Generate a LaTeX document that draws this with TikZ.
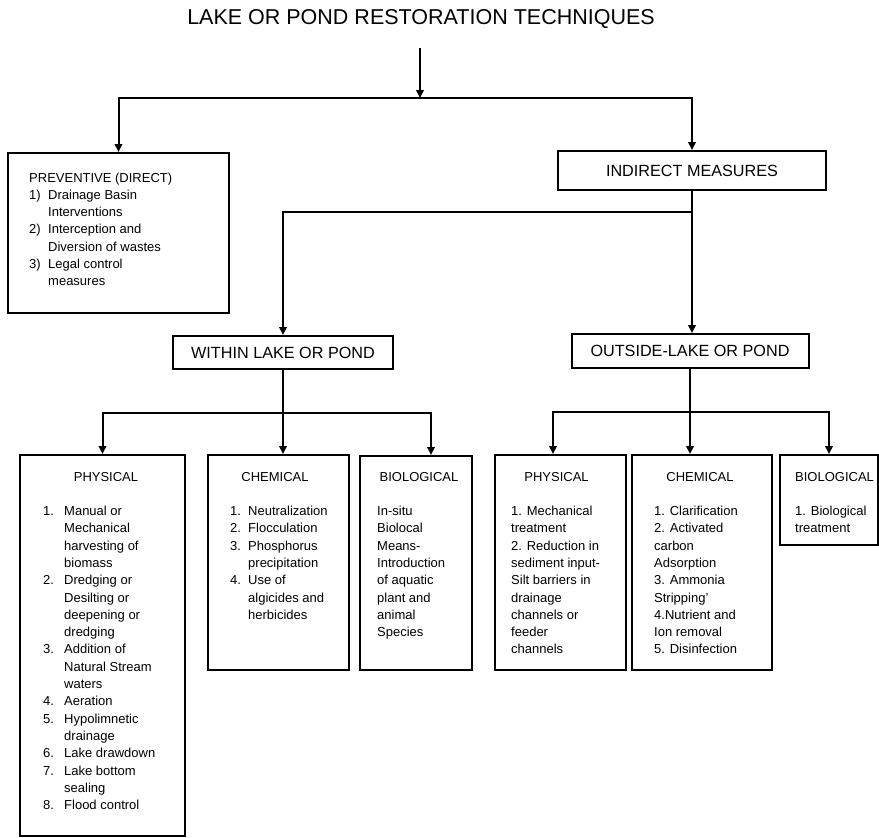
\documentclass[tikz,border=0pt]{standalone}
\usepackage{fontspec}
\setmainfont{Liberation Sans}
\usepackage{array}
\usetikzlibrary{arrows.meta}

\newcommand{\plainlines}[1]{\begin{tabular}[t]{@{}l@{}}#1\end{tabular}}
\newcommand{\numlines}[2]{\begin{tabular}[t]{@{}p{#1}@{}l@{}}#2\end{tabular}}

\begin{document}
\begin{tikzpicture}[
        x=1pt, y=-1pt,
        >={Triangle[length=8pt,width=7.5pt]},
        box/.style={draw, line width=2pt, inner sep=0pt},
        lbl/.style={font=\fontsize{16.2}{20}\selectfont},
        head/.style={inner sep=0pt, anchor=base, font=\fontsize{13}{17.3}\selectfont},
        txt/.style={inner sep=0pt, anchor=base west, font=\fontsize{13}{17.3}\selectfont},
        link/.style={line width=2pt}
    ]
        \useasboundingbox (0,0) rectangle (879,838);

        \node[inner sep=0pt, anchor=base, font=\fontsize{21.5}{26}\selectfont] (title) at (421,24) {LAKE OR POND RESTORATION TECHNIQUES};

        % first level
        \node[box, minimum width=221pt, minimum height=160pt] (prev) at (118.5,233) {};
        \node[box, lbl, minimum width=268pt, minimum height=39pt] (ind) at (692,170.5) {INDIRECT MEASURES};

        \node[txt] (prevt) at (29,182) {\numlines{19pt}{\multicolumn{2}{@{}l@{}}{PREVENTIVE (DIRECT)}\\
            1) & Drainage Basin\\
               & Interventions\\
            2) & Interception and\\
               & Diversion of wastes\\
            3) & Legal control\\
               & measures}};

        % second level
        \node[box, lbl, minimum width=220pt, minimum height=33pt] (within) at (283,352.5) {WITHIN LAKE OR POND};
        \node[box, lbl, minimum width=237pt, minimum height=34pt] (out) at (690,351) {OUTSIDE-LAKE OR POND};

        % boxes under the lake
        \node[box, minimum width=165pt, minimum height=381pt] (phys1) at (102.5,645.5) {};
        \node[box, minimum width=141pt, minimum height=215pt] (chem1) at (278.5,562.5) {};
        \node[box, minimum width=112pt, minimum height=214pt] (bio1) at (416,563) {};

        \node[head] (phys1h) at (106,481.5) {PHYSICAL};
        \node[head] (chem1h) at (275,481.5) {CHEMICAL};
        \node[head] (bio1h) at (419,481.5) {BIOLOGICAL};

        \node[txt] (phys1t) at (43,515.5) {\numlines{21pt}{1. & Manual or\\
               & Mechanical\\
               & harvesting of\\
               & biomass\\
            2. & Dredging or\\
               & Desilting or\\
               & deepening or\\
               & dredging\\
            3. & Addition of\\
               & Natural Stream\\
               & waters\\
            4. & Aeration\\
            5. & Hypolimnetic\\
               & drainage\\
            6. & Lake drawdown\\
            7. & Lake bottom\\
               & sealing\\
            8. & Flood control}};
        \node[txt] (chem1t) at (230,515.5) {\numlines{18pt}{1. & Neutralization\\
            2. & Flocculation\\
            3. & Phosphorus\\
               & precipitation\\
            4. & Use of\\
               & algicides and\\
               & herbicides}};
        \node[txt] (bio1t) at (377,515.5) {\plainlines{In-situ\\ Biolocal\\ Means-\\ Introduction\\ of aquatic\\ plant and\\ animal\\ Species}};

        % boxes outside the lake
        \node[box, minimum width=131pt, minimum height=215pt] (phys2) at (560.5,562.5) {};
        \node[box, minimum width=140pt, minimum height=215pt] (chem2) at (702,562.5) {};
        \node[box, minimum width=98pt, minimum height=90pt] (bio2) at (829,500) {};

        \node[head] (phys2h) at (556.5,481.5) {PHYSICAL};
        \node[head] (chem2h) at (700,481.5) {CHEMICAL};
        \node[txt] (bio2h) at (795,481.5) {BIOLOGICAL};

        \node[txt] (phys2t) at (511,515.5) {\plainlines{1. Mechanical\\ treatment\\ 2. Reduction in\\ sediment input-\\ Silt barriers in\\ drainage\\ channels or\\ feeder\\ channels}};
        \node[txt] (chem2t) at (654,515.5) {\plainlines{1. Clarification\\ 2. Activated\\ carbon\\ Adsorption\\ 3. Ammonia\\ Stripping’\\ 4.Nutrient and\\ Ion removal\\ 5. Disinfection}};
        \node[txt] (bio2t) at (795,515.5) {\plainlines{1. Biological\\ treatment}};

        % connectors
        \coordinate (top) at (420,48);
        \coordinate (j1) at (420,98);
        \coordinate (j2) at (692,212);
        \coordinate (j3) at (283,413);
        \coordinate (j4) at (690,412);

        \draw[link, ->] (top) -- (j1);
        \draw[link, ->] (j1) -| (prev.north);
        \draw[link, ->] (j1) -| (ind.north);

        \draw[link, ->] (ind.south) -- (ind.south |- out.north);
        \draw[link, ->] (j2) -| (within.north);

        \draw[link] (within.south) -- (j3);
        \draw[link, ->] (j3) -| (phys1.north);
        \draw[link, ->] (j3) -- (j3 |- chem1.north);
        \draw[link, ->] (j3) -| ([xshift=15pt]bio1.north);

        \draw[link] (out.south) -- (j4);
        \draw[link, ->] (j4) -| ([xshift=-7.5pt]phys2.north);
        \draw[link, ->] (j4) -- (j4 |- chem2.north);
        \draw[link, ->] (j4) -| (bio2.north);

    \end{tikzpicture}
\end{document}
